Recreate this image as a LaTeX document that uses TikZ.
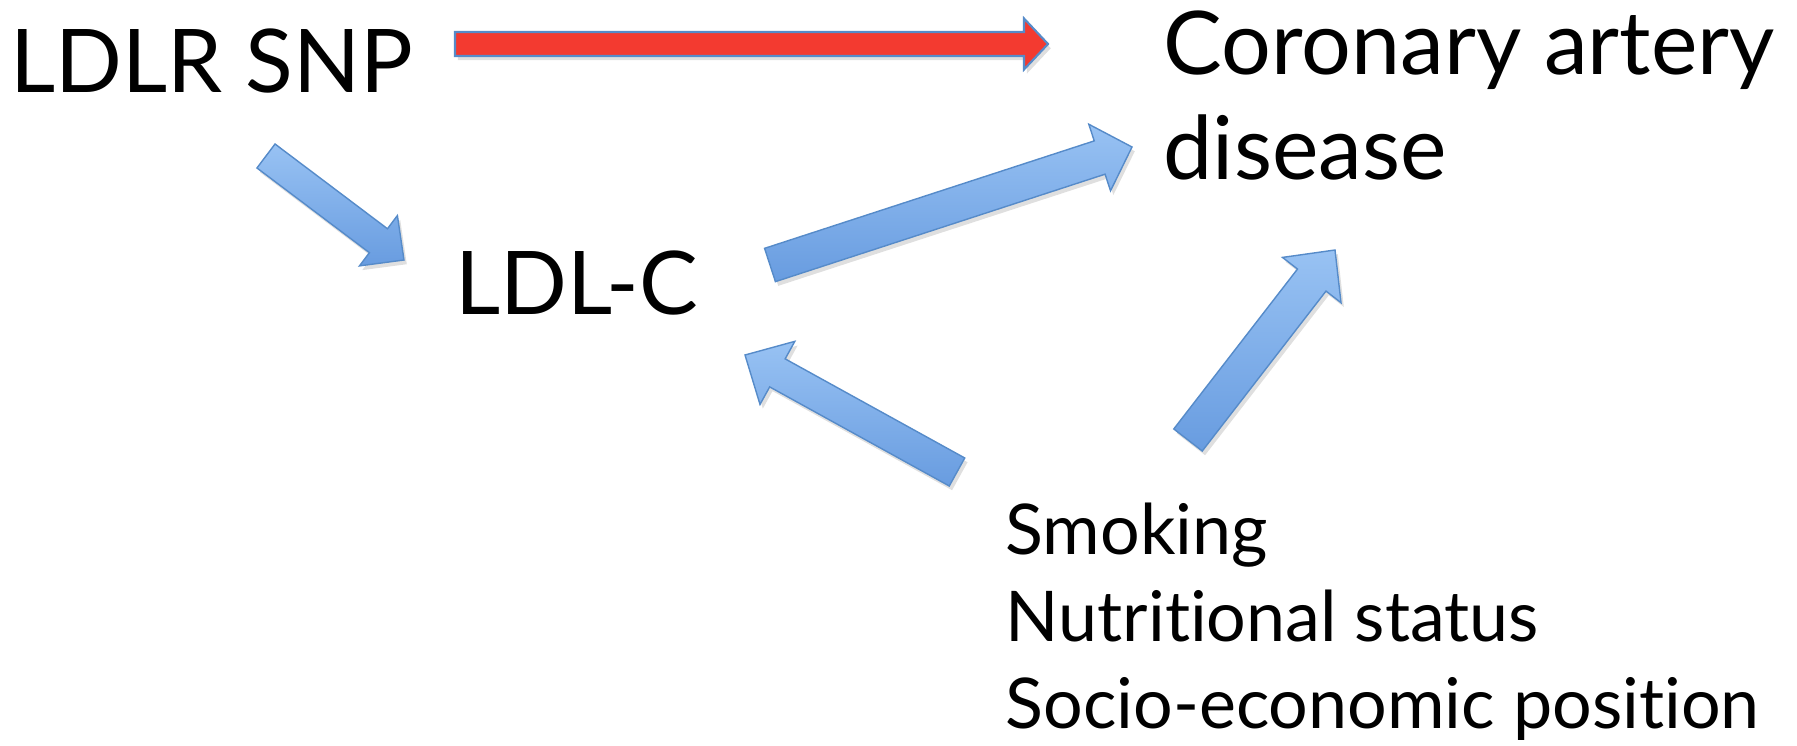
\documentclass[tikz,border=0pt]{standalone}
\usepackage{fontspec}
\setmainfont{Lato}[Ligatures=NoCommon]
\usetikzlibrary{calc}
\usetikzlibrary{shadows}
\definecolor{arrowred}{RGB}{243,58,48}
\definecolor{edgeblue}{RGB}{86,139,201}
\definecolor{lightblue}{RGB}{152,194,243}
\definecolor{darkblue}{RGB}{104,156,224}

\begin{document}
\begin{tikzpicture}[x=0.01cm, y=-0.01cm,
  big/.style={font=\fontsize{25}{30}\selectfont, inner sep=0pt, align=left},
  small/.style={font=\fontsize{19.9}{24.8}\selectfont, inner sep=0pt, align=left},
  redarrow/.style={fill=arrowred, draw=edgeblue, line width=0.6pt,
    drop shadow={opacity=0.25, shadow xshift=0.8pt, shadow yshift=-1.2pt}},
  bluearrow/.style={top color=lightblue, bottom color=darkblue, draw=edgeblue, line width=0.4pt,
    drop shadow={opacity=0.25, shadow xshift=0.8pt, shadow yshift=-1.2pt}}]

%---------------------------------------
% Block arrow: tail, tip, half body, half head, head length, style
%---------------------------------------
\def\BlockArrow#1#2#3#4#5#6{%
  \coordinate (hb) at ($(#2)!#5!(#1)$);
  \draw[#6] ($(#1)!#3!90:(#2)$) -- ($(hb)!#3!90:(#2)$) -- ($(hb)!#4!90:(#2)$) -- (#2)
    -- ($(hb)!#4!-90:(#2)$) -- ($(hb)!#3!-90:(#2)$) -- ($(#1)!#3!-90:(#2)$) -- cycle;
}

\useasboundingbox (0,0) rectangle (1797,746);

% Labels
\node[big, anchor=base west] (snp) at (10,93) {LDLR SNP};
\node[big, anchor=base west] (ldl) at (455,315) {LDL-C};
\node[big, anchor=north west] (cad) at (1163,10) {Coronary artery\\disease};
\node[small, anchor=north west] (conf) at (1005,502) {Smoking\\Nutritional status\\Socio-economic position};

% Arrow ends
\coordinate (snpR) at (455,44);   \coordinate (cadW) at (1048,44);
\coordinate (snpS) at (266,156);  \coordinate (ldlN) at (404,260);
\coordinate (ldlE) at (770,265);  \coordinate (cadS) at (1132,147);
\coordinate (confW) at (957,472); \coordinate (ldlSE) at (745,355);
\coordinate (confN) at (1188,440); \coordinate (cadSE) at (1335,250);

% ---- Arrows ----
\BlockArrow{snpR}{cadW}{0.12cm}{0.255cm}{0.24cm}{redarrow}
\BlockArrow{snpS}{ldlN}{0.15cm}{0.315cm}{0.32cm}{bluearrow}
\BlockArrow{ldlE}{cadS}{0.175cm}{0.35cm}{0.34cm}{bluearrow}
\BlockArrow{confW}{ldlSE}{0.16cm}{0.36cm}{0.37cm}{bluearrow}
\BlockArrow{confN}{cadSE}{0.18cm}{0.37cm}{0.38cm}{bluearrow}

\end{tikzpicture}
\end{document}
